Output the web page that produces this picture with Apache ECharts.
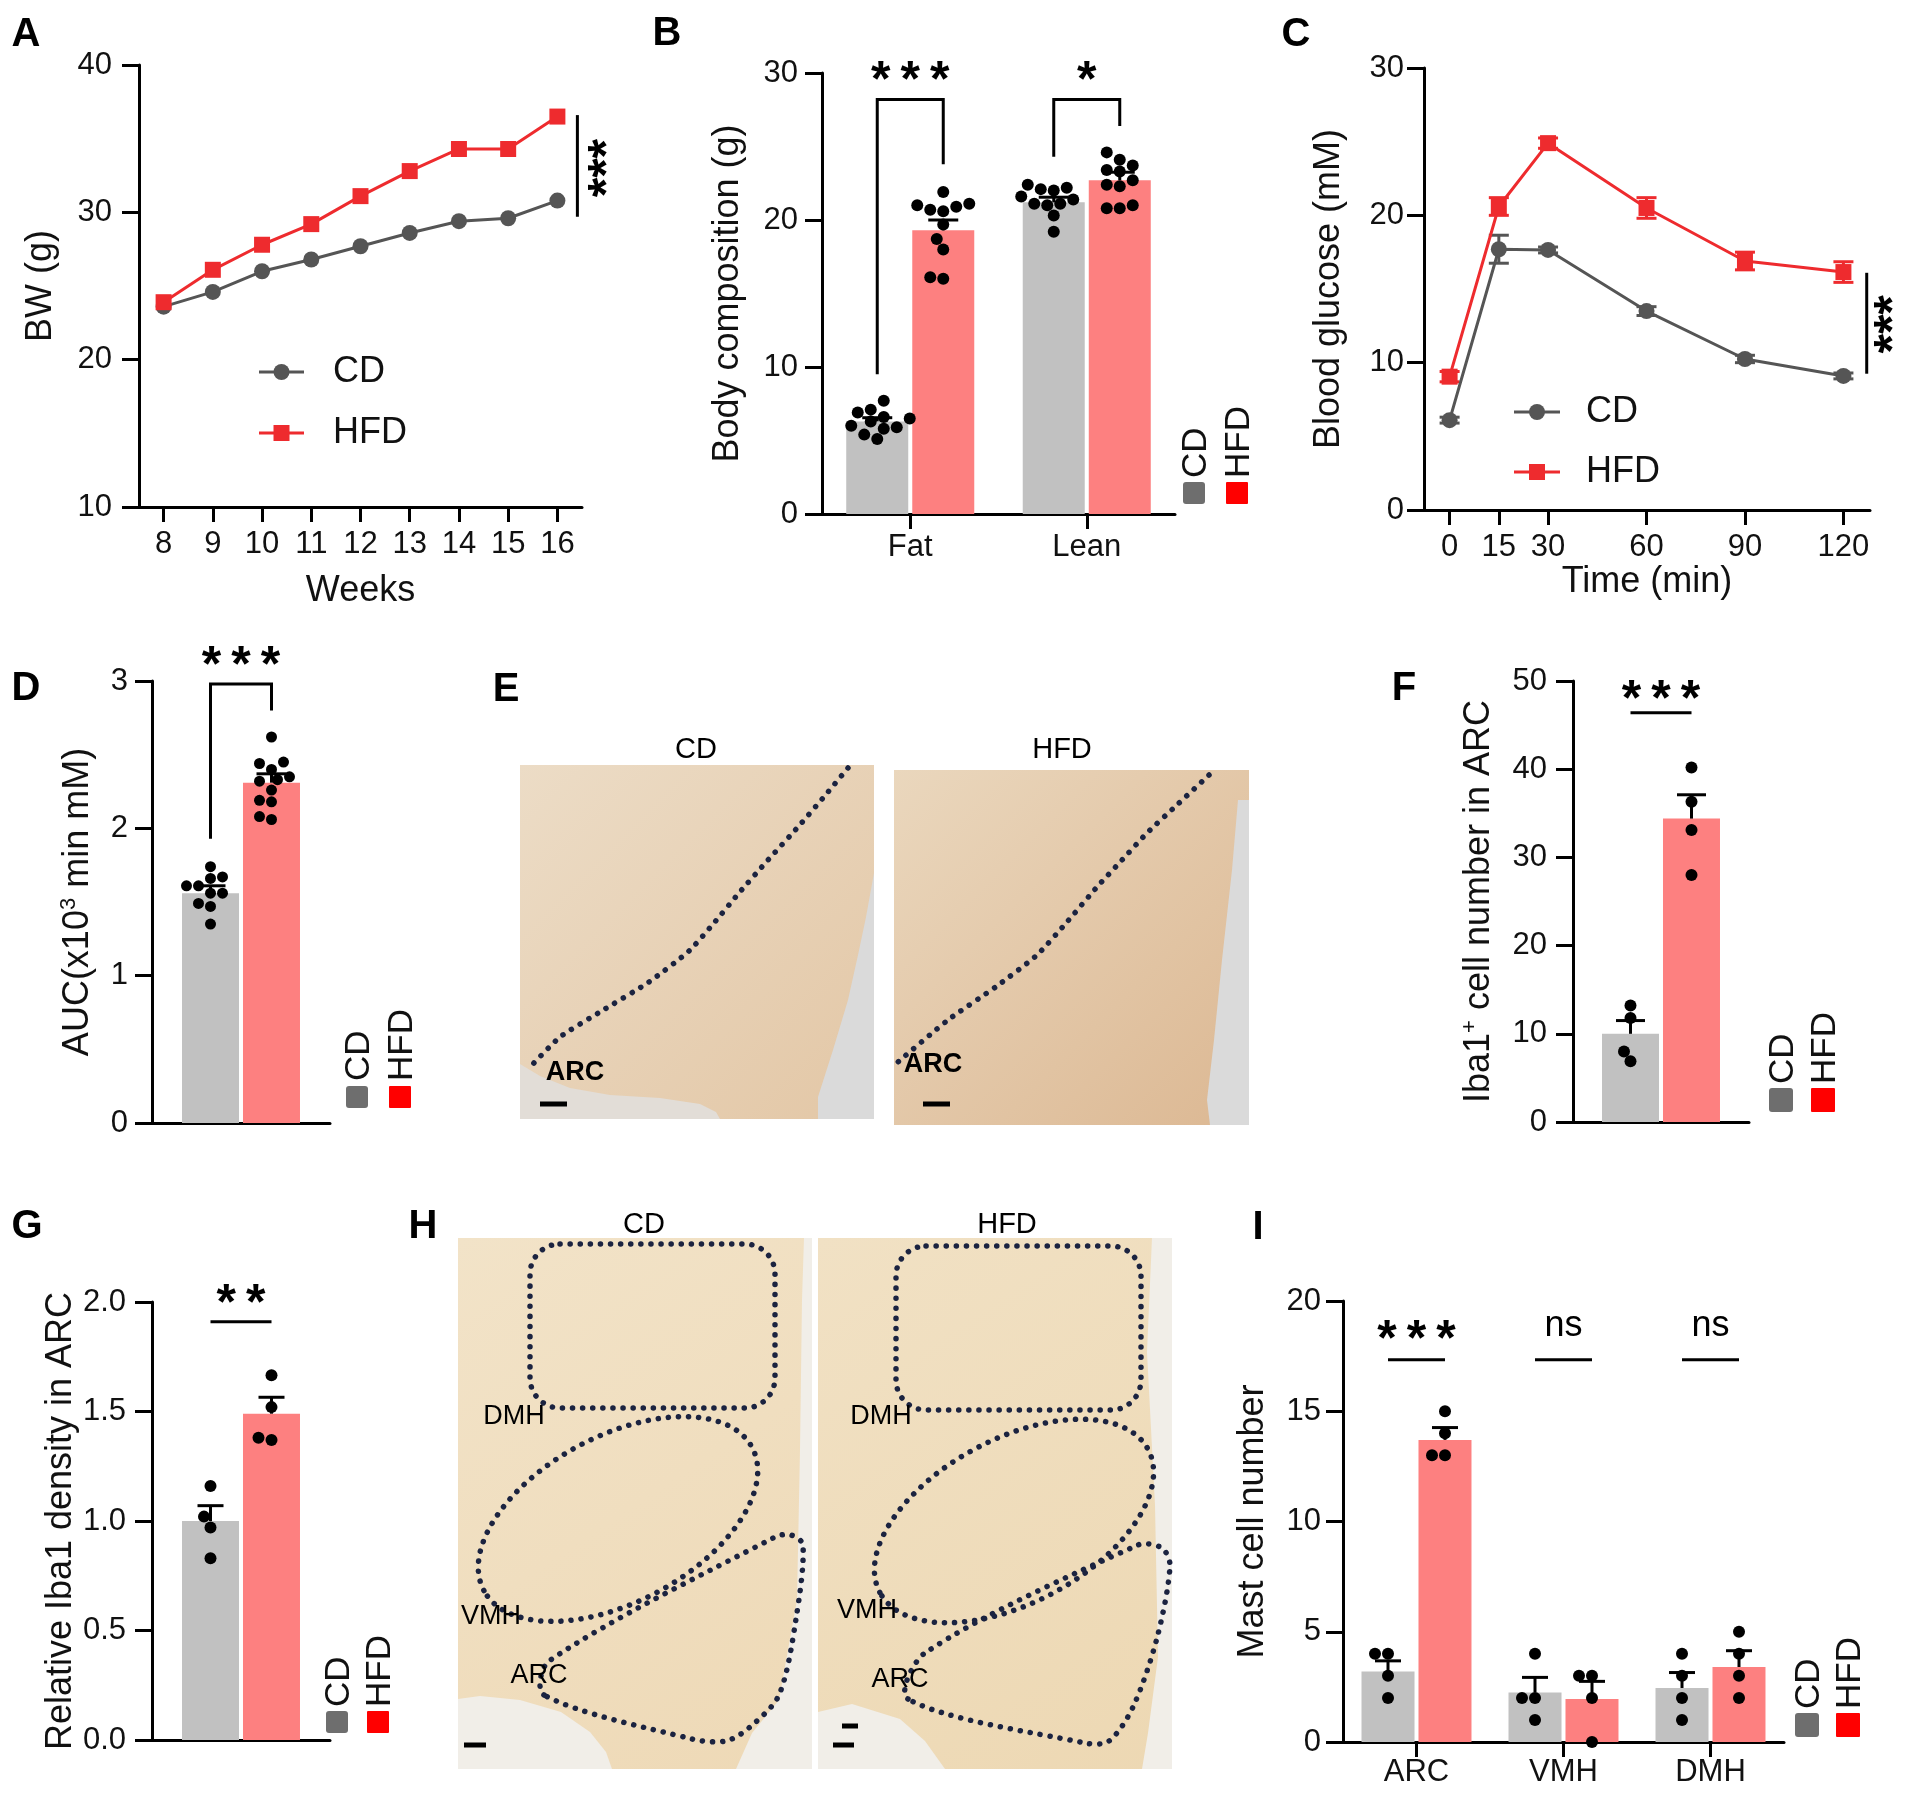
<!DOCTYPE html>
<html>
<head>
<meta charset="utf-8">
<title>CD vs HFD - body weight, glucose and hypothalamic inflammation</title>
<script src="https://cdn.jsdelivr.net/npm/echarts@6.0.0/dist/echarts.min.js"></script>
<style>
  html, body { margin: 0; padding: 0; background: #fff; }
  #main { width: 1910px; height: 1797px; }
</style>
</head>
<body>
<div id="main"></div>
<script type="text/javascript">
// ---------- A: body weight
var weeks = ['8', '9', '10', '11', '12', '13', '14', '15', '16'];
var bwCD  = [23.6, 24.6, 26.0, 26.8, 27.7, 28.6, 29.4, 29.6, 30.8];
var bwHFD = [23.9, 26.1, 27.8, 29.2, 31.1, 32.8, 34.3, 34.3, 36.5];

// ---------- B: body composition
var compCats   = ['Fat', 'Lean'];
var compCD     = [6.3, 21.2];
var compCDsem  = [0.25, 0.35];
var compHFD    = [19.3, 22.7];
var compHFDsem = [0.7, 0.55];
var fatCD   = [7.7, 7.1, 6.9, 6.5, 6.3, 6.6, 5.9, 5.8, 6.0, 5.1, 5.4];
var fatHFD  = [21.9, 20.6, 20.9, 20.7, 21.1, 21.0, 19.7, 18.7, 18.0, 16.0, 16.1];
var leanCD  = [22.1, 22.0, 22.2, 22.4, 21.1, 21.1, 21.0, 21.4, 21.6, 20.3, 19.2];
var leanHFD = [24.6, 23.7, 24.1, 23.3, 23.4, 22.4, 22.7, 22.3, 20.8, 21.0, 20.8];

// ---------- C: glucose tolerance
var gttTimes  = [0, 15, 30, 60, 90, 120];
var gttCD     = [6.1, 17.7, 17.65, 13.5, 10.25, 9.1];
var gttCDsem  = [0.2, 0.95, 0.2, 0.3, 0.25, 0.2];
var gttHFD    = [9.05, 20.6, 24.9, 20.5, 16.9, 16.15];
var gttHFDsem = [0.35, 0.6, 0.35, 0.7, 0.6, 0.7];

// ---------- D: AUC
var aucCD = [1.56], aucCDsem = [0.05];
var aucHFD = [2.31], aucHFDsem = [0.06];
var aucDotsCD  = [1.74, 1.67, 1.66, 1.61, 1.61, 1.56, 1.56, 1.49, 1.47, 1.35];
var aucDotsHFD = [2.62, 2.45, 2.44, 2.40, 2.32, 2.33, 2.35, 2.26, 2.19, 2.18, 2.06, 2.08];

// ---------- F: Iba1+ cells in ARC
var ibaCD = [10.0], ibaCDsem = [1.5];
var ibaHFD = [34.4], ibaHFDsem = [2.7];
var ibaDotsCD  = [13.2, 11.8, 6.9, 8.0];
var ibaDotsHFD = [40.2, 36.3, 33.1, 28.0];

// ---------- G: relative Iba1 density
var denCD = [1.0], denCDsem = [0.07];
var denHFD = [1.49], denHFDsem = [0.075];
var denDotsCD  = [1.16, 1.02, 0.97, 0.83];
var denDotsHFD = [1.665, 1.52, 1.37, 1.38];

// ---------- I: mast cells
var regions    = ['ARC', 'VMH', 'DMH'];
var mastCD     = [3.2, 2.25, 2.45];
var mastCDsem  = [0.48, 0.68, 0.7];
var mastHFD    = [13.7, 1.95, 3.4];
var mastHFDsem = [0.56, 0.8, 0.74];
var mastDotsCD  = [[4, 4, 3, 2], [4, 2, 2, 1], [4, 3, 2, 1]];
var mastDotsHFD = [[15, 14, 13, 13], [3, 3, 2, 0], [5, 4, 3, 2]];

var FONT = '"Liberation Sans", Arial, Helvetica, sans-serif';
var INK = '#111';
var GRAY_BAR = '#c1c1c1', PINK_BAR = '#fd8080';
var CD_LINE = '#555555', HFD_LINE = '#ee2b2e';

var option = { animation: false, backgroundColor: '#fff', grid: [], xAxis: [], yAxis: [], series: [], graphic: [] };
var G = option.graphic;

function addGrid(g) {
    option.grid.push({ left: g.left, top: g.top, width: g.width, height: g.height, containLabel: false, outerBoundsMode: 'none' });
    return option.grid.length - 1;
}

function yVal(gi, c) {
    return {
        type: 'value', gridIndex: gi, min: c.min, max: c.max, interval: c.interval,
        name: c.name, nameLocation: 'middle', nameRotate: 90, nameGap: c.nameGap,
        nameTextStyle: { fontFamily: FONT, fontSize: 36, color: INK, rich: c.rich },
        axisLine: { show: true, onZero: false, lineStyle: { color: '#000', width: 3 } },
        axisTick: { show: true, length: 17, lineStyle: { color: '#000', width: 3 } },
        axisLabel: { fontFamily: FONT, fontSize: 31, color: INK, margin: c.margin, formatter: c.fmt },
        splitLine: { show: false }
    };
}

function xCat(gi, cats, labels, margin) {
    return {
        type: 'category', gridIndex: gi, data: cats, boundaryGap: true,
        axisLine: { show: true, onZero: false, lineStyle: { color: '#000', width: 3 } },
        axisTick: { show: labels, alignWithLabel: true, length: 15, lineStyle: { color: '#000', width: 3 } },
        axisLabel: { show: labels, interval: 0, fontFamily: FONT, fontSize: 31, color: INK, margin: margin || 18 },
        splitLine: { show: false }
    };
}

// error bars: rows [x, mean, sem, dxPx]
function errorBars(gi, rows, capW, both, color, z) {
    return {
        type: 'custom', xAxisIndex: gi, yAxisIndex: gi, z: z || 5, silent: true, data: rows,
        renderItem: function (params, api) {
            var x = api.value(0), m = api.value(1), s = api.value(2), dx = api.value(3);
            var top = api.coord([x, m + s]);
            var bot = both ? api.coord([x, m - s]) : api.coord([x, m]);
            var cx = top[0] + dx, st = { stroke: color, lineWidth: 3 };
            var ch = [
                { type: 'line', shape: { x1: cx, y1: bot[1], x2: cx, y2: top[1] }, style: st },
                { type: 'line', shape: { x1: cx - capW / 2, y1: top[1], x2: cx + capW / 2, y2: top[1] }, style: st }
            ];
            if (both) ch.push({ type: 'line', shape: { x1: cx - capW / 2, y1: bot[1], x2: cx + capW / 2, y2: bot[1] }, style: st });
            return { type: 'group', children: ch };
        }
    };
}

// significance marks: lines [[x, dxPx, y], ...], texts {x, dx, y, t, size, rot}
function annot(gi, spec) {
    return {
        type: 'custom', xAxisIndex: gi, yAxisIndex: gi, z: 6, silent: true, data: [[0]],
        renderItem: function (params, api) {
            var ch = [];
            (spec.lines || []).forEach(function (pl) {
                var pts = pl.map(function (q) { var c = api.coord([q[0], q[2]]); return [c[0] + q[1], c[1]]; });
                ch.push({ type: 'polyline', shape: { points: pts }, style: { stroke: '#000', lineWidth: 3, fill: null } });
            });
            (spec.texts || []).forEach(function (t) {
                var c = api.coord([t.x, t.y]);
                var px = c[0] + (t.dx || 0), py = c[1];
                var star = t.t.indexOf('*') >= 0;
                var up = star ? 0.22 * t.size : 0.02 * t.size;
                if (t.rot) px += up; else py += up;
                ch.push({
                    type: 'text', x: px, y: py, rotation: t.rot ? Math.PI / 2 : 0,
                    style: { text: t.t, fontFamily: FONT, fontSize: t.size, fontWeight: star ? 'bold' : 'normal',
                             fill: '#000', align: 'center', verticalAlign: 'middle' }
                });
            });
            return { type: 'group', children: ch };
        }
    };
}

// simple beeswarm, returns x offsets in px
function swarm(vals, ppu, d) {
    var order = vals.map(function (v, i) { return i; }).sort(function (a, b) { return vals[a] - vals[b]; });
    var placed = [], out = [];
    order.forEach(function (i) {
        var y = vals[i] * ppu;
        for (var k = 0; k < 30; k++) {
            var cand = k === 0 ? 0 : (k % 2 ? -1 : 1) * Math.ceil(k / 2) * d * 0.5;
            var ok = placed.every(function (p) { var a = p[0] - cand, b = p[1] - y; return a * a + b * b >= d * d * 0.8; });
            if (ok) { placed.push([cand, y]); out[i] = cand; break; }
        }
    });
    return out;
}

function barPanel(p) {
    var gi = addGrid(p.grid);
    option.xAxis.push(xCat(gi, p.cats, p.catLabels, p.labelMargin));
    option.yAxis.push(yVal(gi, p.y));
    var off = (p.barW + p.gap) / 2;
    var gapPct = (p.gap / p.barW * 100).toFixed(1) + '%';
    option.series.push({ type: 'bar', name: 'CD', xAxisIndex: gi, yAxisIndex: gi, data: p.cd, barWidth: p.barW, barGap: gapPct, itemStyle: { color: GRAY_BAR }, z: 2, silent: true });
    option.series.push({ type: 'bar', name: 'HFD', xAxisIndex: gi, yAxisIndex: gi, data: p.hfd, barWidth: p.barW, barGap: gapPct, itemStyle: { color: PINK_BAR }, z: 2, silent: true });
    var rows = [];
    p.cd.forEach(function (m, i) { rows.push([i, m, p.cdSem[i], -off]); });
    p.hfd.forEach(function (m, i) { rows.push([i, m, p.hfdSem[i], off]); });
    option.series.push(errorBars(gi, rows, p.capW, false, '#000'));
    var ppu = p.grid.height / (p.y.max - p.y.min);
    var pts = [];
    [[p.dotsCD, -off], [p.dotsHFD, off]].forEach(function (grp) {
        grp[0].forEach(function (vals, i) {
            swarm(vals, ppu, p.dot + 1).forEach(function (dx, k) {
                pts.push({ value: [i, vals[k]], symbolOffset: [dx + grp[1], 0] });
            });
        });
    });
    option.series.push({ type: 'scatter', xAxisIndex: gi, yAxisIndex: gi, data: pts, symbol: 'circle', symbolSize: p.dot, itemStyle: { color: '#000', opacity: 1 }, z: 4, silent: true });
    var sig = {
        lines: p.sig.lines.map(function (pl) { return pl.map(function (q) { return [q[0], q[1] * off, q[2]]; }); }),
        texts: p.sig.texts
    };
    option.series.push(annot(gi, sig));
}

function rotLegend(xCD, xHFD, sqTop, size, textBottom) {
    G.push({ type: 'rect', shape: { x: xCD - size / 2, y: sqTop, width: size, height: size, r: 3 }, style: { fill: '#6e6e6e' } });
    G.push({ type: 'rect', shape: { x: xHFD - size / 2, y: sqTop, width: size, height: size, r: 1 }, style: { fill: '#ff0000' } });
    [['CD', xCD], ['HFD', xHFD]].forEach(function (t) {
        G.push({ type: 'text', x: t[1] + 2, y: textBottom, rotation: Math.PI / 2,
                 style: { text: t[0], fontFamily: FONT, fontSize: 35, fill: INK, align: 'left', verticalAlign: 'middle' } });
    });
}

function lineLegend(x1, x2, tx, yCD, yHFD) {
    G.push({ type: 'line', shape: { x1: x1, y1: yCD, x2: x2, y2: yCD }, style: { stroke: CD_LINE, lineWidth: 3 } });
    G.push({ type: 'circle', shape: { cx: (x1 + x2) / 2, cy: yCD, r: 8 }, style: { fill: CD_LINE } });
    G.push({ type: 'line', shape: { x1: x1, y1: yHFD, x2: x2, y2: yHFD }, style: { stroke: HFD_LINE, lineWidth: 3 } });
    G.push({ type: 'rect', shape: { x: (x1 + x2) / 2 - 8, y: yHFD - 8, width: 16, height: 16 }, style: { fill: HFD_LINE } });
    G.push({ type: 'text', x: tx, y: yCD, style: { text: 'CD', fontFamily: FONT, fontSize: 36, fill: INK, align: 'left', verticalAlign: 'middle' } });
    G.push({ type: 'text', x: tx, y: yHFD, style: { text: 'HFD', fontFamily: FONT, fontSize: 36, fill: INK, align: 'left', verticalAlign: 'middle' } });
}

function label(t, x, y, size, bold) {
    G.push({ type: 'text', x: x, y: y, z: 10, style: { text: t, fontFamily: FONT, fontSize: size, fontWeight: bold ? 'bold' : 'normal', fill: '#000', align: 'center', verticalAlign: 'middle' } });
}

// ================= A =================
(function () {
    var gi = addGrid({ left: 139, top: 65, width: 443, height: 442 });
    var x = xCat(gi, weeks, true, 22);
    x.name = 'Weeks'; x.nameLocation = 'middle'; x.nameGap = 66;
    x.nameTextStyle = { fontFamily: FONT, fontSize: 36, color: INK };
    option.xAxis.push(x);
    option.yAxis.push(yVal(gi, { min: 10, max: 40, interval: 10, name: 'BW (g)', nameGap: 80, margin: 27 }));
    option.series.push({ type: 'line', xAxisIndex: gi, yAxisIndex: gi, data: bwCD, symbol: 'circle', symbolSize: 16,
        lineStyle: { color: CD_LINE, width: 3 }, itemStyle: { color: CD_LINE }, z: 3, silent: true });
    option.series.push({ type: 'line', xAxisIndex: gi, yAxisIndex: gi, data: bwHFD, symbol: 'rect', symbolSize: 16,
        lineStyle: { color: HFD_LINE, width: 3 }, itemStyle: { color: HFD_LINE }, z: 3, silent: true });
    option.series.push(annot(gi, { lines: [[[8, 20, 29.7], [8, 20, 36.6]]], texts: [{ x: 8, dx: 41, y: 33.0, t: '***', size: 50, rot: true }] }));
    lineLegend(259, 304, 333, 372, 433);
})();

// ================= B =================
barPanel({
    grid: { left: 822, top: 73, width: 353, height: 441 },
    cats: compCats, catLabels: true, labelMargin: 18,
    y: { min: 0, max: 30, interval: 10, name: 'Body composition (g)', nameGap: 76, margin: 24 },
    cd: compCD, cdSem: compCDsem, hfd: compHFD, hfdSem: compHFDsem,
    dotsCD: [fatCD, leanCD], dotsHFD: [fatHFD, leanHFD],
    barW: 62, gap: 4, capW: 30, dot: 12,
    sig: {
        lines: [[[0, -1, 9.5], [0, -1, 28.2], [0, 1, 28.2], [0, 1, 23.8]],
                [[1, -1, 24.3], [1, -1, 28.2], [1, 1, 28.2], [1, 1, 26.4]]],
        texts: [{ x: 0, y: 30.1, t: '*\u2009*\u2009*', size: 50 }, { x: 1, y: 30.1, t: '*', size: 50 }]
    }
});
rotLegend(1194, 1237, 482, 22, 478);

// ================= C =================
(function () {
    var gi = addGrid({ left: 1424, top: 68, width: 446, height: 442 });
    option.xAxis.push({
        type: 'value', gridIndex: gi, min: -7.8, max: 128.1,
        name: 'Time (min)', nameLocation: 'middle', nameGap: 51,
        nameTextStyle: { fontFamily: FONT, fontSize: 36, color: INK },
        axisLine: { show: true, onZero: false, lineStyle: { color: '#000', width: 3 } },
        axisTick: { show: true, customValues: gttTimes, length: 15, lineStyle: { color: '#000', width: 3 } },
        axisLabel: { customValues: gttTimes, fontFamily: FONT, fontSize: 31, color: INK, margin: 22 },
        splitLine: { show: false }
    });
    option.yAxis.push(yVal(gi, { min: 0, max: 30, interval: 10, name: 'Blood glucose (mM)', nameGap: 77, margin: 20 }));
    option.series.push(errorBars(gi, gttTimes.map(function (t, i) { return [t, gttCD[i], gttCDsem[i], 0]; }), 20, true, CD_LINE, 2));
    option.series.push(errorBars(gi, gttTimes.map(function (t, i) { return [t, gttHFD[i], gttHFDsem[i], 0]; }), 20, true, HFD_LINE, 2));
    option.series.push({ type: 'line', xAxisIndex: gi, yAxisIndex: gi, data: gttTimes.map(function (t, i) { return [t, gttCD[i]]; }),
        symbol: 'circle', symbolSize: 16, lineStyle: { color: CD_LINE, width: 3 }, itemStyle: { color: CD_LINE }, z: 3, silent: true });
    option.series.push({ type: 'line', xAxisIndex: gi, yAxisIndex: gi, data: gttTimes.map(function (t, i) { return [t, gttHFD[i]]; }),
        symbol: 'rect', symbolSize: 16, lineStyle: { color: HFD_LINE, width: 3 }, itemStyle: { color: HFD_LINE }, z: 3, silent: true });
    option.series.push(annot(gi, { lines: [[[127.1, 0, 16.1], [127.1, 0, 9.25]]], texts: [{ x: 132.3, y: 12.6, t: '***', size: 50, rot: true }] }));
    lineLegend(1514, 1560, 1586, 412, 472);
})();

// ================= D =================
var supRich = {
    n: { fontFamily: FONT, fontSize: 36, color: INK, lineHeight: 40 },
    s: { fontFamily: FONT, fontSize: 22, color: INK, lineHeight: 20, verticalAlign: 'top' }
};
barPanel({
    grid: { left: 152, top: 681, width: 178, height: 442 },
    cats: [''], catLabels: false,
    y: { min: 0, max: 3, interval: 1, name: '{n|AUC(x10}{s|3}{n| min mM)}', rich: supRich, nameGap: 54, margin: 24 },
    cd: aucCD, cdSem: aucCDsem, hfd: aucHFD, hfdSem: aucHFDsem,
    dotsCD: [aucDotsCD], dotsHFD: [aucDotsHFD],
    barW: 57, gap: 4, capW: 30, dot: 11,
    sig: {
        lines: [[[0, -1, 1.93], [0, -1, 2.98], [0, 1, 2.98], [0, 1, 2.80]]],
        texts: [{ x: 0, y: 3.17, t: '*\u2009*\u2009*', size: 50 }]
    }
});
rotLegend(357, 400, 1086, 22, 1081);

// ================= F =================
barPanel({
    grid: { left: 1573, top: 681, width: 176, height: 441 },
    cats: [''], catLabels: false,
    y: { min: 0, max: 50, interval: 10, name: '{n|Iba1}{s|+}{n| cell number in ARC}', rich: supRich, nameGap: 74, margin: 26 },
    cd: ibaCD, cdSem: ibaCDsem, hfd: ibaHFD, hfdSem: ibaHFDsem,
    dotsCD: [ibaDotsCD], dotsHFD: [ibaDotsHFD],
    barW: 57, gap: 4, capW: 29, dot: 12,
    sig: {
        lines: [[[0, -1, 46.4], [0, 1, 46.4]]],
        texts: [{ x: 0, y: 49.0, t: '*\u2009*\u2009*', size: 50 }]
    }
});
rotLegend(1781, 1823, 1088, 24, 1084);

// ================= G =================
barPanel({
    grid: { left: 152, top: 1302, width: 178, height: 438 },
    cats: [''], catLabels: false,
    y: { min: 0, max: 2, interval: 0.5, name: 'Relative Iba1 density in ARC', nameGap: 72, margin: 26,
         fmt: function (v) { return v.toFixed(1); } },
    cd: denCD, cdSem: denCDsem, hfd: denHFD, hfdSem: denHFDsem,
    dotsCD: [denDotsCD], dotsHFD: [denDotsHFD],
    barW: 57, gap: 4, capW: 26, dot: 12,
    sig: {
        lines: [[[0, -1, 1.91], [0, 1, 1.91]]],
        texts: [{ x: 0, y: 2.034, t: '*\u2009*', size: 50 }]
    }
});
rotLegend(337, 378, 1711, 22, 1707);

// ================= I =================
barPanel({
    grid: { left: 1343, top: 1301, width: 441, height: 441 },
    cats: regions, catLabels: true, labelMargin: 15,
    y: { min: 0, max: 20, interval: 5, name: 'Mast cell number', nameGap: 72, margin: 22 },
    cd: mastCD, cdSem: mastCDsem, hfd: mastHFD, hfdSem: mastHFDsem,
    dotsCD: mastDotsCD, dotsHFD: mastDotsHFD,
    barW: 53, gap: 4, capW: 26, dot: 12,
    sig: {
        lines: [[[0, -1, 17.33], [0, 1, 17.33]], [[1, -1, 17.33], [1, 1, 17.33]], [[2, -1, 17.33], [2, 1, 17.33]]],
        texts: [{ x: 0, y: 18.68, t: '*\u2009*\u2009*', size: 50 },
                { x: 1, y: 18.9, t: 'ns', size: 36 },
                { x: 2, y: 18.9, t: 'ns', size: 36 }]
    }
});
rotLegend(1807, 1848, 1713, 24, 1709);

// ================= E and H: stained sections (schematic) =================
function tissue(x, y, w, h, c1, c2) {
    G.push({ type: 'rect', shape: { x: x, y: y, width: w, height: h },
        style: { fill: { type: 'linear', x: 0, y: 0, x2: 1, y2: 1, colorStops: [{ offset: 0, color: c1 }, { offset: 1, color: c2 }] } } });
}
function blank(points, color) {
    G.push({ type: 'polygon', shape: { points: points }, style: { fill: color } });
}
var DOT = { fill: null, stroke: '#1b2340', lineWidth: 5.5, lineDash: [0.1, 10], lineCap: 'round' };
function dotted(points, closed, smooth) {
    G.push({ type: closed ? 'polygon' : 'polyline', shape: { points: points, smooth: smooth }, style: DOT });
}
function scaleBar(x, y, w) {
    G.push({ type: 'rect', shape: { x: x, y: y - 2.5, width: w, height: 5 }, style: { fill: '#000' } });
}

// E
tissue(520, 765, 354, 354, '#ecdcc6', '#e3c7a6');
tissue(894, 770, 355, 355, '#ead7bd', '#dcb893');
blank([[874, 873], [874, 1119], [818, 1119], [818, 1097], [833, 1050], [848, 1000], [858, 955], [866, 917]], '#dadada');
blank([[520, 1064], [540, 1076], [570, 1088], [610, 1095], [660, 1098], [700, 1104], [716, 1112], [720, 1119], [520, 1119]], '#e2ddd7');
blank([[1238, 800], [1249, 800], [1249, 1125], [1210, 1125], [1207, 1100], [1214, 1040], [1222, 960], [1232, 870]], '#dadada');
dotted([[848, 768], [823, 798], [798, 827], [768, 860], [739, 893], [714, 923], [689, 951], [649, 982], [600, 1012], [560, 1037], [532, 1065]], false, 0.2);
dotted([[1209, 775], [1178, 804], [1147, 833], [1122, 860], [1097, 887], [1067, 922], [1037, 955], [997, 986], [948, 1020], [898, 1062]], false, 0.2);
label('CD', 696, 750, 29, false);
label('HFD', 1062, 750, 29, false);
label('ARC', 575, 1073, 27, true);
label('ARC', 933, 1065, 27, true);
scaleBar(540, 1104, 27);
scaleBar(923, 1104, 27);

// H
tissue(458, 1238, 354, 531, '#f2e3c8', '#eed9b6');
tissue(818, 1238, 354, 531, '#f1e1c4', '#edd8b3');
blank([[804, 1238], [812, 1238], [812, 1769], [736, 1769], [752, 1733], [779, 1700], [797, 1600], [800, 1450], [802, 1300]], '#f1eee8');
blank([[458, 1699], [480, 1696], [520, 1700], [561, 1712], [590, 1732], [606, 1752], [612, 1769], [458, 1769]], '#f1eee8');
blank([[1152, 1238], [1172, 1238], [1172, 1769], [1142, 1769], [1148, 1733], [1158, 1657], [1155, 1505], [1147, 1352]], '#f1eee8');
blank([[818, 1712], [852, 1704], [900, 1719], [925, 1741], [945, 1769], [818, 1769]], '#f1eee8');
G.push({ type: 'rect', shape: { x: 530, y: 1244, width: 245, height: 164, r: 30 }, style: DOT });
G.push({ type: 'rect', shape: { x: 896, y: 1246, width: 245, height: 164, r: 30 }, style: DOT });
G.push({ type: 'ellipse', x: 618, y: 1519, rotation: 0.49, shape: { cx: 0, cy: 0, rx: 152, ry: 83 }, style: DOT });
G.push({ type: 'ellipse', x: 1014, y: 1521, rotation: 0.49, shape: { cx: 0, cy: 0, rx: 152, ry: 82 }, style: DOT });
dotted([[544, 1695], [549, 1661], [775, 1537], [791, 1535], [803, 1545], [796, 1619], [779, 1695], [750, 1727], [726, 1741], [692, 1739]], true, 0.3);
dotted([[908, 1699], [925, 1653], [1138, 1545], [1162, 1548], [1170, 1566], [1157, 1638], [1133, 1707], [1109, 1741], [1085, 1743]], true, 0.3);
label('CD', 644, 1225, 29, false);
label('HFD', 1007, 1225, 29, false);
label('DMH', 514, 1417, 27, false);
label('DMH', 881, 1417, 27, false);
label('VMH', 491, 1617, 27, false);
label('VMH', 867, 1611, 27, false);
label('ARC', 539, 1676, 27, false);
label('ARC', 900, 1680, 27, false);
scaleBar(464, 1745, 22);
scaleBar(833, 1745, 21);
scaleBar(842, 1726, 16);

// panel letters
label('A', 26, 35, 40, true);
label('B', 667, 34, 40, true);
label('C', 1296, 35, 40, true);
label('D', 26, 689, 40, true);
label('E', 506, 690, 40, true);
label('F', 1404, 689, 40, true);
label('G', 27, 1227, 40, true);
label('H', 423, 1227, 40, true);
label('I', 1258, 1228, 40, true);

var myChart = echarts.init(document.getElementById('main'));
myChart.setOption(option);
</script>
</body>
</html>
